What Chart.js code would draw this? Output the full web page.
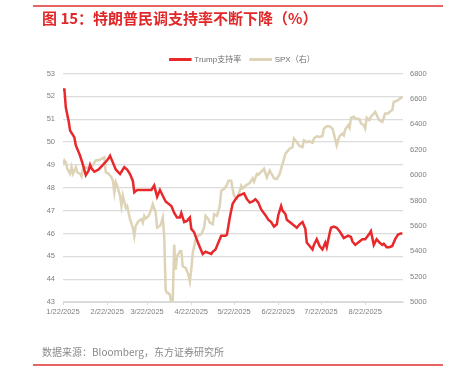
<!DOCTYPE html>
<html>
<head>
<meta charset="utf-8">
<script src="https://cdn.jsdelivr.net/npm/chart.js@4.4.1/dist/chart.umd.min.js"></script>
<style>
  html, body { margin: 0; padding: 0; background: #fff; }
  #wrap { position: relative; width: 456px; height: 383px; overflow: hidden; }
  #chart { position: absolute; left: 0; top: 0; }
  .rule { position: absolute; left: 33px; width: 410px; height: 1.5px; background: #e86464; }
  #title { position: absolute; left: 42px; top: 7px; font: bold 15px "Noto Sans CJK SC", sans-serif; color: #e0282a; white-space: nowrap; }
  #source { position: absolute; left: 42px; top: 344px; font: 10px "Noto Sans CJK SC", sans-serif; color: #8a8a8a; white-space: nowrap; }
</style>
</head>
<body>
<div id="wrap">
  <canvas id="chart" width="456" height="383"></canvas>
  <div class="rule" style="top:5px"></div>
  <div id="title">图 15：特朗普民调支持率不断下降（%）</div>
  <div id="source">数据来源：Bloomberg，东方证券研究所</div>
  <div class="rule" style="top:364px"></div>
</div>
<script>
// days counted from 1/22/2025
const trumpDays = [0,1,2,4,5,7,8,9,12,14,16,18,19,20,22,25,28,31,33,35,37,40,41,43,45,47,49,50,52,62,64,66,68,70,72,76,78,80,82,83,85,87,89,90,92,94,96,98,100,102,104,105,107,109,111,114,115,117,119,121,123,125,127,129,131,133,135,137,139,142,144,146,148,150,151,153,154,156,157,159,161,164,166,168,170,171,173,175,176,178,180,182,184,185,187,188,190,192,194,196,197,200,202,203,205,208,210,212,215,216,218,220,222,224,225,227,229,231,233,235,237,238];
const trumpValues = [52.3,52.3,51.5,50.9,50.5,50.3,50.2,49.85,49.4,49.0,48.55,48.75,49.0,48.85,48.7,48.8,49.0,49.2,49.4,49.1,48.8,48.6,48.7,48.9,48.8,48.6,48.3,47.8,47.9,47.9,48.1,47.6,47.9,47.65,47.4,47.2,46.9,46.7,46.7,46.9,46.5,46.55,46.7,46.2,46.05,45.7,45.4,45.1,45.2,45.15,45.1,45.2,45.3,45.6,45.9,45.9,45.95,46.7,47.3,47.5,47.65,47.7,47.75,47.5,47.35,47.4,47.5,47.35,47.05,46.8,46.6,46.5,46.3,46.4,46.8,47.2,47.0,46.85,46.6,46.5,46.4,46.25,46.4,46.5,46.2,45.6,45.45,45.3,45.5,45.75,45.45,45.3,45.6,45.4,46.0,46.25,46.3,46.25,46.1,45.9,45.8,45.9,45.85,45.65,45.5,45.65,45.75,45.75,46.0,46.1,45.5,45.75,45.6,45.5,45.55,45.4,45.4,45.45,45.75,45.95,46.0,46.0];

const spxDays = [0,1,2,3,5,6,7,9,10,12,13,14,16,18,19,21,23,26,27,29,30,32,34,35,36,37,38,40,41,42,44,45,47,49,50,51,53,55,56,57,58,60,62,63,65,66,68,69,70,71,72,73,74,75,76,77,78,79,80,82,83,84,86,88,89,90,91,93,95,97,99,100,102,103,105,106,108,110,111,113,115,116,118,119,120,122,124,125,126,128,131,132,133,134,136,137,139,140,141,143,144,145,147,148,150,152,154,155,156,158,159,161,162,164,166,168,169,171,173,175,176,178,180,182,183,185,187,189,190,192,193,194,196,197,198,200,201,202,204,205,208,209,211,212,213,215,216,218,219,221,222,224,226,228,229,231,232,234,236,237,238];
const spxValues = [6080,6115,6100,6050,6010,6062,6010,6062,6022,6010,5990,6050,6062,6050,6062,6080,6115,6120,6128,6140,6022,6010,5982,5956,5863,5943,5916,5837,5757,5837,5744,5757,5652,5585,5519,5599,5638,5652,5625,5678,5657,5678,5731,5771,5705,5585,5599,5625,5665,5519,5096,5070,5070,5056,4982,5017,5453,5255,5360,5400,5400,5281,5268,5215,5162,5255,5387,5493,5525,5533,5585,5678,5652,5625,5612,5691,5678,5757,5876,5890,5922,5956,5956,5890,5837,5816,5876,5916,5895,5916,5937,5956,5974,5948,6009,6001,6027,6035,6049,5982,6009,6035,5996,5974,5969,6009,6088,6128,6168,6194,6207,6220,6287,6260,6228,6220,6273,6260,6265,6255,6287,6305,6300,6308,6366,6385,6385,6366,6326,6234,6273,6308,6326,6313,6361,6393,6371,6451,6459,6445,6440,6406,6393,6366,6451,6432,6459,6485,6498,6451,6432,6419,6485,6485,6498,6512,6578,6583,6599,6612,6604];

const tickDays = [0,31,59,90,120,151,181,212];
const tickLabels = ['1/22/2025','2/22/2025','3/22/2025','4/22/2025','5/22/2025','6/22/2025','7/22/2025','8/22/2025'];

const toPoints = (days, values) => days.map((d, i) => ({x: d, y: values[i]}));

Chart.defaults.font.family = '"Liberation Sans", "Noto Sans CJK SC", sans-serif';
Chart.defaults.color = '#7f7f7f';

const ctx = document.getElementById('chart').getContext('2d');
const approvalChart = new Chart(ctx, {
    type: 'line',
    data: {
        datasets: [{
            label: 'Trump支持率',
            data: toPoints(trumpDays, trumpValues),
            borderColor: '#e8282a',
            backgroundColor: '#e8282a',
            borderWidth: 2.5,
            pointRadius: 0,
            tension: 0,
            yAxisID: 'y',
        }, {
            label: 'SPX（右）',
            data: toPoints(spxDays, spxValues),
            borderColor: '#ddd3b7',
            backgroundColor: '#ddd3b7',
            borderWidth: 2.5,
            pointRadius: 0,
            tension: 0,
            yAxisID: 'y2',
        }]
    },
    options: {
        responsive: false,
        animation: false,
        layout: {
            padding: { left: 29, right: 0, top: 46, bottom: 61 }
        },
        plugins: {
            legend: {
                display: true,
                labels: {
                    boxWidth: 20,
                    boxHeight: 0.5,
                    padding: 9.5,
                    font: { size: 8 },
                    color: '#707070'
                }
            },
            tooltip: { enabled: false }
        },
        scales: {
            x: {
                type: 'linear',
                min: 0,
                max: 238.5,
                afterBuildTicks: axis => { axis.ticks = tickDays.map(v => ({value: v})); },
                afterFit: axis => { axis.height = 20; },
                ticks: {
                    autoSkip: false,
                    maxRotation: 0,
                    padding: 2,
                    font: { size: 7.5 },
                    callback: (value) => tickLabels[tickDays.indexOf(value)]
                },
                grid: { drawOnChartArea: false, drawTicks: true, tickLength: 3, color: '#d9d9d9' },
                border: { color: '#d9d9d9' }
            },
            y: {
                position: 'left',
                min: 43,
                max: 53,
                afterFit: axis => { axis.width = 34; },
                ticks: { stepSize: 1, padding: 8, font: { size: 7.5 } },
                grid: { color: '#dcdcdc', lineWidth: 1.2, drawTicks: false },
                border: { display: false }
            },
            y2: {
                position: 'right',
                min: 5000,
                max: 6800,
                afterFit: axis => { axis.width = 53; },
                ticks: { stepSize: 200, padding: 7, font: { size: 7.5 }, callback: (value) => String(value) },
                grid: { drawOnChartArea: false, drawTicks: false },
                border: { display: false }
            }
        }
    }
});
</script>
</body>
</html>
